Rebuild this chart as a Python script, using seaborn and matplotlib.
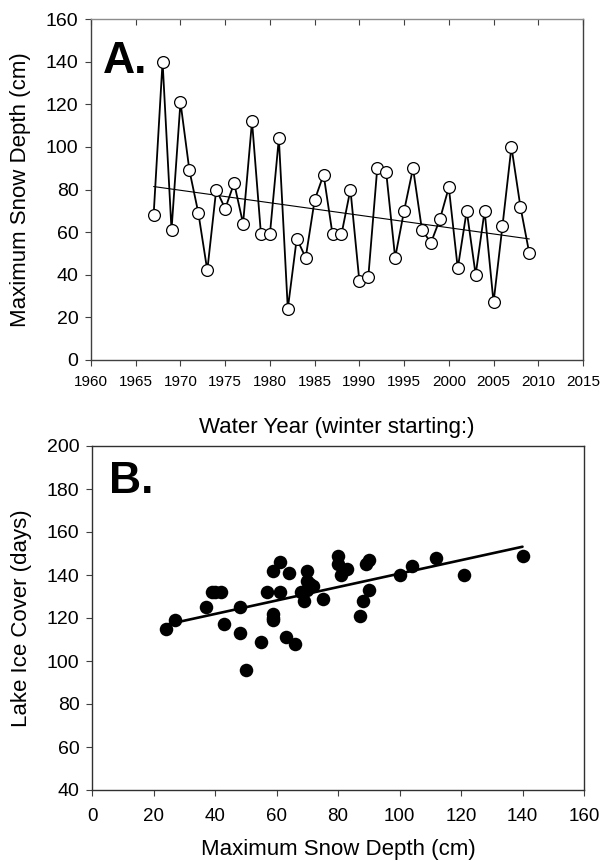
import matplotlib
matplotlib.use("Agg")
import matplotlib.pyplot as plt
import numpy as np
import pandas as pd
import seaborn as sns

# Panel A: maximum snow depth per water year
YEARS = list(range(1967, 2010))
SNOW_DEPTH = [68, 140, 61, 121, 89, 69, 42, 80, 71, 83, 64, 112, 59, 59, 104,
              24, 57, 48, 75, 87, 59, 59, 80, 37, 39, 90, 88, 48, 70, 90, 61,
              55, 66, 81, 43, 70, 40, 70, 27, 63, 100, 72, 50]

# Panel B: snow depth vs lake ice cover
B_SNOW = [24, 27, 37, 39, 40, 42, 43, 48, 48, 50, 55, 57, 59, 59, 59, 59, 61, 61,
          63, 64, 66, 68, 69, 70, 70, 70, 71, 72, 75, 80, 80, 81, 83, 87, 88, 89,
          90, 90, 100, 104, 112, 121, 140]
B_ICE = [115, 119, 125, 132, 132, 132, 117, 125, 113, 96, 109, 132, 142, 122, 120,
         119, 132, 146, 111, 141, 108, 132, 128, 142, 137, 133, 136, 135, 129, 149,
         145, 140, 143, 121, 128, 145, 147, 133, 140, 144, 148, 140, 149]

A_XTICKS = list(range(1960, 2016, 5))
A_YTICKS = list(range(0, 161, 20))
B_XTICKS = list(range(0, 161, 20))
B_YTICKS = list(range(40, 201, 20))

sns.set_style("ticks")
plt.rcParams["font.family"] = ["Liberation Sans", "DejaVu Sans"]
plt.rcParams["text.color"] = "black"
plt.rcParams["axes.labelcolor"] = "black"
plt.rcParams["xtick.labelcolor"] = "black"
plt.rcParams["ytick.labelcolor"] = "black"

df_a = pd.DataFrame({"year": YEARS, "snow": SNOW_DEPTH})
df_b = pd.DataFrame({"snow": B_SNOW, "ice": B_ICE})

fig = plt.figure(figsize=(6.01, 8.61), dpi=100)
ax_a = fig.add_axes([91 / 601, 1 - 360 / 861, 492 / 601, 341 / 861])
ax_b = fig.add_axes([92 / 601, 1 - 790 / 861, 492 / 601, 344 / 861])

# ---- panel A
sns.regplot(data=df_a, x="year", y="snow", ax=ax_a, scatter=False, ci=None,
            line_kws=dict(color="black", lw=0.8))
sns.lineplot(data=df_a, x="year", y="snow", ax=ax_a, color="black", lw=1.3,
             marker="o", markersize=8.5, markerfacecolor="white",
             markeredgecolor="black", markeredgewidth=0.9)
ax_a.set_xlim(1960, 2015)
ax_a.set_ylim(0, 160)
ax_a.set_xticks(A_XTICKS)
ax_a.set_yticks(A_YTICKS)
ax_a.tick_params(axis="x", labelsize=11, length=4, width=0.8, pad=7,
                 color="#404040", labelcolor="black")
ax_a.tick_params(axis="y", labelsize=14, length=4, width=0.8, pad=5,
                 color="#404040", labelcolor="black")
top = ax_a.secondary_xaxis("top")
top.set_xticks(A_XTICKS)
top.tick_params(direction="in", length=4, width=0.8, labeltop=False, color="#404040")
top.spines["top"].set_visible(False)
ax_a.set_xlabel("Water Year (winter starting:)", fontsize=16)
ax_a.set_ylabel("Maximum Snow Depth (cm)", fontsize=16)
ax_a.xaxis.set_label_coords(0.5, -0.168)
ax_a.yaxis.set_label_coords(-0.122, 0.5)
ax_a.text(0.025, 0.935, "A.", transform=ax_a.transAxes, fontsize=32,
          fontweight="heavy", va="top", ha="left", color="black")
for side in ["left", "bottom", "right"]:
    ax_a.spines[side].set_color("#404040")
ax_a.spines["top"].set_color("#8c8c8c")
for sp in ax_a.spines.values():
    sp.set_visible(True)
    sp.set_linewidth(1.0)

# ---- panel B
sns.regplot(data=df_b, x="snow", y="ice", ax=ax_b, scatter=False, ci=None,
            line_kws=dict(color="black", lw=1.9))
sns.scatterplot(data=df_b, x="snow", y="ice", ax=ax_b, color="black", s=95,
                edgecolor="black", linewidth=0, zorder=3)
ax_b.set_xlim(0, 160)
ax_b.set_ylim(40, 200)
ax_b.set_xticks(B_XTICKS)
ax_b.set_yticks(B_YTICKS)
ax_b.tick_params(axis="x", labelsize=13.5, length=4, width=0.8, pad=9,
                 color="#404040", labelcolor="black")
ax_b.tick_params(axis="y", labelsize=14, length=4, width=0.8, pad=5,
                 color="#404040", labelcolor="black")
ax_b.set_xlabel("Maximum Snow Depth (cm)", fontsize=16)
ax_b.set_ylabel("Lake Ice Cover (days)", fontsize=16)
ax_b.xaxis.set_label_coords(0.5, -0.142)
ax_b.yaxis.set_label_coords(-0.122, 0.5)
ax_b.text(0.035, 0.955, "B.", transform=ax_b.transAxes, fontsize=32,
          fontweight="heavy", va="top", ha="left", color="black")
for sp in ax_b.spines.values():
    sp.set_visible(True)
    sp.set_color("#303030")
    sp.set_linewidth(1.0)

fig.savefig("out.png", dpi=100)
